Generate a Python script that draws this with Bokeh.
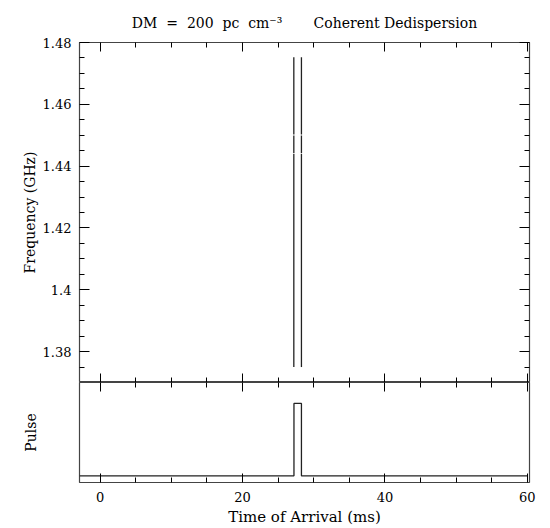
from bokeh.plotting import figure
from bokeh.models import Range1d, LinearAxis, FixedTicker, CustomJSTickFormatter, ColumnDataSource
from bokeh.layouts import column
from bokeh.embed import file_html
from bokeh.resources import INLINE

# ---- data ----
x_major_ticks = [0, 20, 40, 60]
x_minor_ticks = [5, 10, 15, 25, 30, 35, 45, 50, 55]
y_major_ticks = [1.38, 1.40, 1.42, 1.44, 1.46, 1.48]
y_minor_ticks = [1.375, 1.385, 1.39, 1.395, 1.405, 1.41, 1.415, 1.425,
                 1.43, 1.435, 1.445, 1.45, 1.455, 1.465, 1.47, 1.475]

# pulse edges (ms) after coherent dedispersion, drawn per sub-band segment (GHz)
edge_times = [27.2, 28.27]
segment_freq_lo = [1.375, 1.4442, 1.4502]
segment_freq_hi = [1.4439, 1.4499, 1.4752]

# integrated pulse profile (step)
pulse_time = [-2.9, 27.22, 27.22, 28.27, 28.27, 60.0]
pulse_amp = [0, 0, 1, 1, 0, 0]

FONT = "DejaVu Serif"
FS = "13px"
LFS = "14px"
FRAME = "#444444"
NB = "\u00a0"

x_range = Range1d(-2.9, 60.3)


def tick_axis(ax, major_in, minor_in, labels, standoff=0):
    ax.major_tick_in = major_in
    ax.major_tick_out = 0
    ax.minor_tick_in = minor_in
    ax.minor_tick_out = 0
    ax.major_tick_line_color = "black"
    ax.minor_tick_line_color = "black"
    ax.axis_line_color = None
    ax.major_label_text_font = FONT
    ax.major_label_text_color = "black"
    ax.major_label_text_font_size = FS
    if not labels:
        ax.major_label_text_alpha = 0
    ax.major_label_standoff = standoff
    ax.axis_label_text_font = FONT
    ax.axis_label_text_font_size = LFS
    ax.axis_label_text_font_style = "normal"
    ax.axis_label_text_color = "black"


xt = FixedTicker(ticks=x_major_ticks, minor_ticks=x_minor_ticks)
yt = FixedTicker(ticks=y_major_ticks, minor_ticks=y_minor_ticks)
yfmt = CustomJSTickFormatter(code="return String(Math.round(tick*100)/100);")

# ---- top panel ----
top = figure(width=545, height=382, x_range=x_range, y_range=Range1d(1.37, 1.48),
             x_axis_location=None, y_axis_location=None,
             output_backend="svg", toolbar_location=None,
             min_border_left=79, min_border_right=16, min_border_top=40, min_border_bottom=0,
             outline_line_color=FRAME, outline_line_width=1.2)
top.grid.visible = False
top.title.text = ("DM" + NB * 2 + "=" + NB * 2 + "200" + NB * 2 + "pc" + NB * 2 + "cm\u207b\u00b3"
                  + NB * 7 + "Coherent Dedispersion")
top.title.align = "center"
top.title.text_font = FONT
top.title.text_font_size = LFS
top.title.text_font_style = "normal"
top.title.text_color = "black"
top.title.standoff = 24

left = LinearAxis(ticker=yt, formatter=yfmt, axis_label="Frequency (GHz)")
tick_axis(left, 10, 5, True, 8)
left.axis_label_standoff = 2
top.add_layout(left, "left")

right = LinearAxis(ticker=yt)
tick_axis(right, 10, 5, False)
top.add_layout(right, "right")

above = LinearAxis(ticker=xt)
tick_axis(above, 9, 5, False)
top.add_layout(above, "above")

below_t = LinearAxis(ticker=xt)
tick_axis(below_t, 9, 5, False)
top.add_layout(below_t, "below")

src = ColumnDataSource(dict(
    x=[t for t in edge_times for _ in segment_freq_lo],
    y0=[f for _ in edge_times for f in segment_freq_lo],
    y1=[f for _ in edge_times for f in segment_freq_hi],
))
top.segment(x0="x", y0="y0", x1="x", y1="y1", source=src, line_color="#222222", line_width=1.3)

# ---- bottom panel ----
bot = figure(width=545, height=146, x_range=x_range, y_range=Range1d(-0.093, 1.29),
             x_axis_location=None, y_axis_location=None,
             output_backend="svg", toolbar_location=None,
             min_border_left=79, min_border_right=16, min_border_top=0, min_border_bottom=42,
             outline_line_color=FRAME, outline_line_width=1.2)
bot.grid.visible = False

bleft = LinearAxis(ticker=FixedTicker(ticks=[], minor_ticks=[]), axis_label="Pulse")
tick_axis(bleft, 0, 0, False, 0)
bleft.axis_label_standoff = 41
bot.add_layout(bleft, "left")

babove = LinearAxis(ticker=xt)
tick_axis(babove, 9, 5, False)
bot.add_layout(babove, "above")

bbelow = LinearAxis(ticker=xt, axis_label="Time of Arrival (ms)")
tick_axis(bbelow, 9, 5, True, 9)
bbelow.axis_label_text_font_size = "15px"
bbelow.axis_label_standoff = 3
bot.add_layout(bbelow, "below")

bot.line(pulse_time, pulse_amp, line_color="#222222", line_width=1.3)

layout = column(top, bot, spacing=0)
open("out.html", "w").write(file_html(layout, INLINE))
